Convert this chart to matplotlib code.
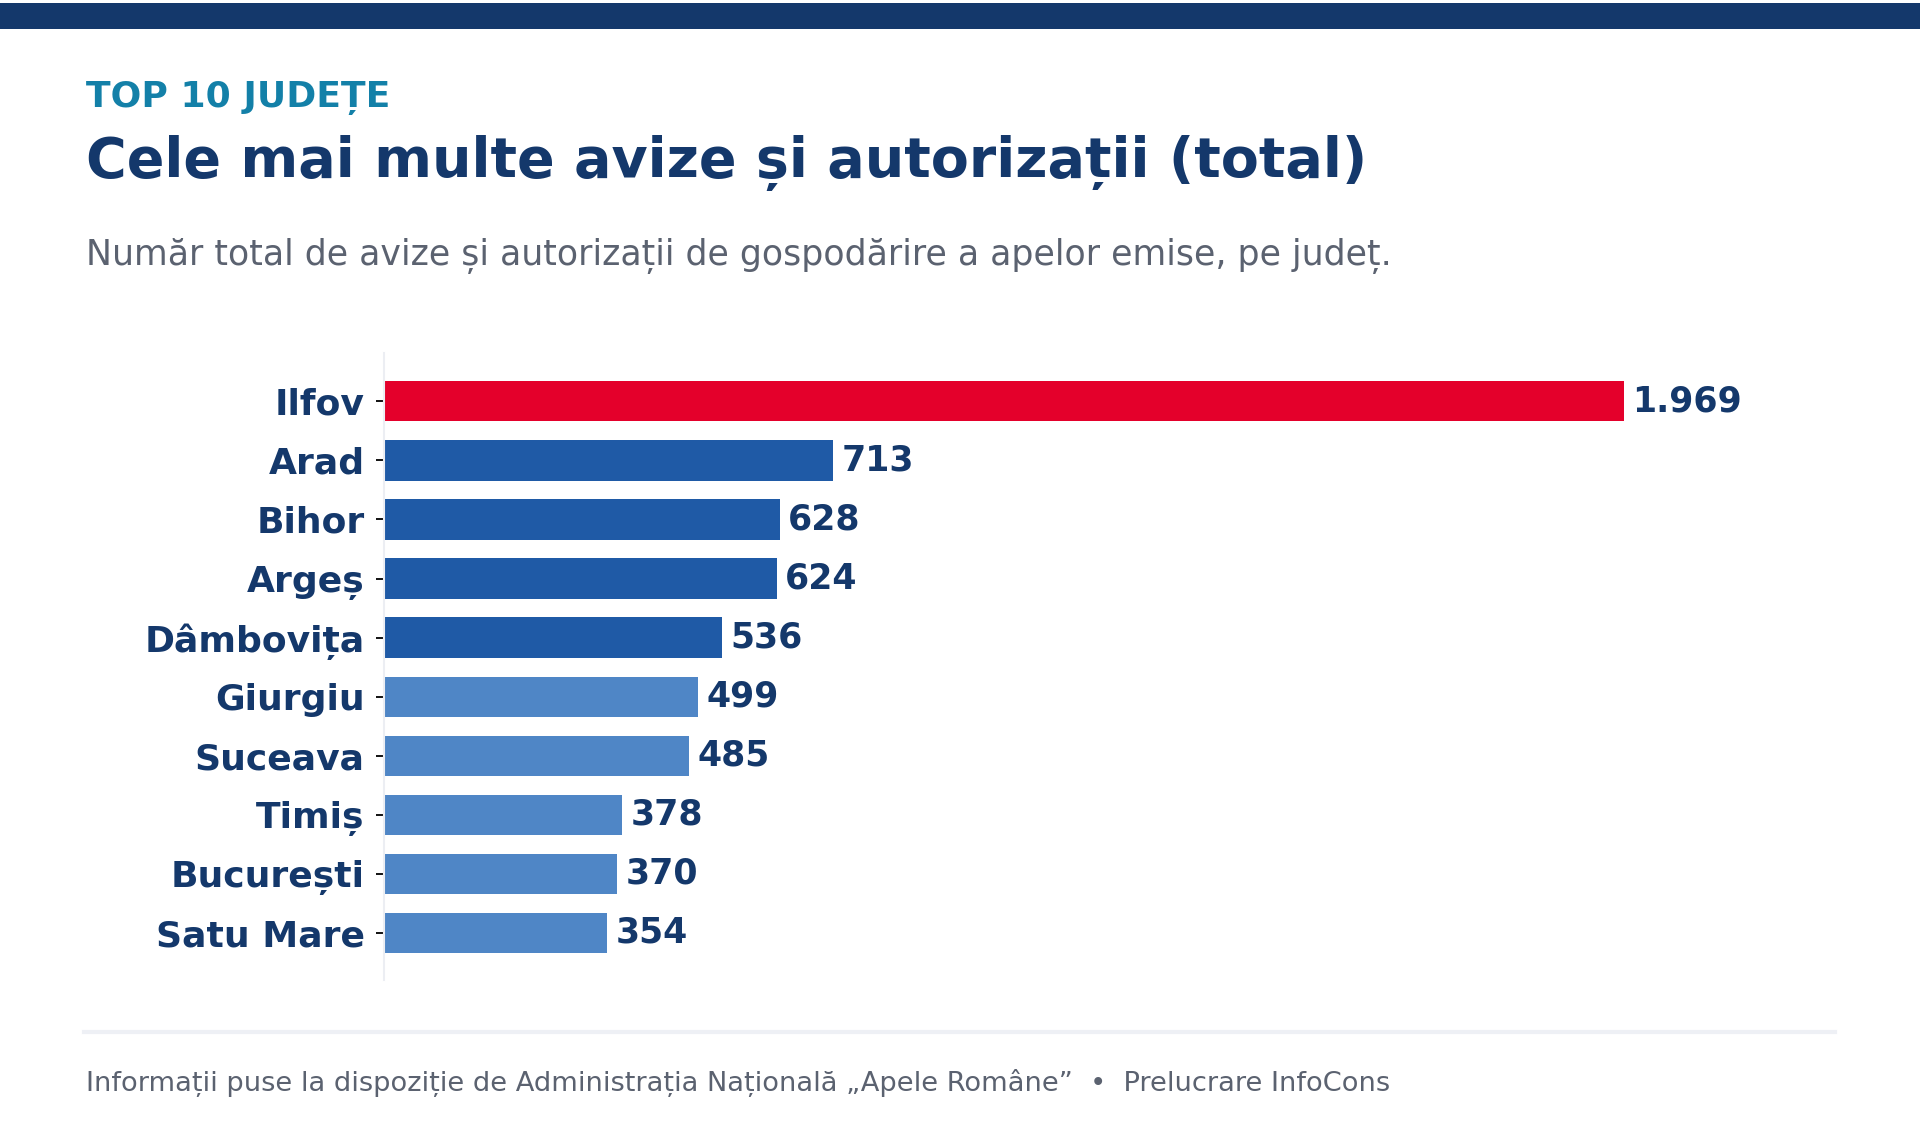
import matplotlib
matplotlib.use('Agg')
import matplotlib.pyplot as plt
from matplotlib.patches import Rectangle
from matplotlib.lines import Line2D

# data
judete = ['Ilfov', 'Arad', 'Bihor', 'Argeș', 'Dâmbovița',
          'Giurgiu', 'Suceava', 'Timiș', 'București', 'Satu Mare']
valori = [1969, 713, 628, 624, 536, 499, 485, 378, 370, 354]

NAVY = '#14386B'
RED = '#E4002B'
BLUE = '#1F5AA6'
LIGHT = '#4F86C6'
GREY = '#5B6270'

culori = [RED] + [BLUE] * 4 + [LIGHT] * 5

def fmt(v):
    # thousands separator with a dot, romanian style
    return '{:,}'.format(v).replace(',', '.')

fig = plt.figure(figsize=(19.2, 11.4), dpi=100)
fig.patch.set_facecolor('white')

# top band
fig.add_artist(Rectangle((0, 1 - 29 / 1140), 1, 26 / 1140, transform=fig.transFigure,
                         facecolor=NAVY, edgecolor='none'))

# header texts
fig.text(86 / 1920, 1 - 107 / 1140, 'TOP 10 JUDEȚE', color='#1380A8',
         fontsize=26, fontweight='bold', va='baseline')
fig.text(86 / 1920, 1 - 177 / 1140, 'Cele mai multe avize și autorizații (total)',
         color=NAVY, fontsize=40, fontweight='bold', va='baseline')
fig.text(86 / 1920, 1 - 265 / 1140,
         'Număr total de avize și autorizații de gospodărire a apelor emise, pe județ.',
         color=GREY, fontsize=25, va='baseline')

# the chart
ax = fig.add_axes([384 / 1920, 1 - 980 / 1140, (1835 - 384) / 1920, (980 - 353) / 1140])
y = list(range(len(judete)))
ax.barh(y, valori, height=0.68, color=culori)
for yi, v in zip(y, valori):
    ax.annotate(fmt(v), (v, yi), xytext=(6, 0), textcoords='offset points',
                va='center', ha='left', fontsize=25, fontweight='bold', color=NAVY)

ax.set_yticks(y)
ax.set_yticklabels(judete, fontsize=26, fontweight='bold', color=NAVY)
ax.set_ylim(9.8, -0.82)
ax.set_xlim(0, max(valori) * 1.17)
ax.set_xticks([])
for s in ['top', 'right', 'bottom']:
    ax.spines[s].set_visible(False)
ax.spines['left'].set_color('#ECEEF3')
ax.spines['left'].set_linewidth(1.5)
ax.tick_params(axis='y', length=6, width=1.4, color='#111111', pad=8)

# separator and footer
fig.add_artist(Line2D([84 / 1920, 1835 / 1920], [1 - 1032 / 1140] * 2,
                      transform=fig.transFigure, color='#EEF0F5', linewidth=3))
fig.text(86 / 1920, 1 - 1091 / 1140,
         'Informații puse la dispoziție de Administrația Națională „Apele Române”  •  Prelucrare InfoCons',
         color=GREY, fontsize=19.6, va='baseline')

fig.savefig('out.png', dpi=100, facecolor='white')
